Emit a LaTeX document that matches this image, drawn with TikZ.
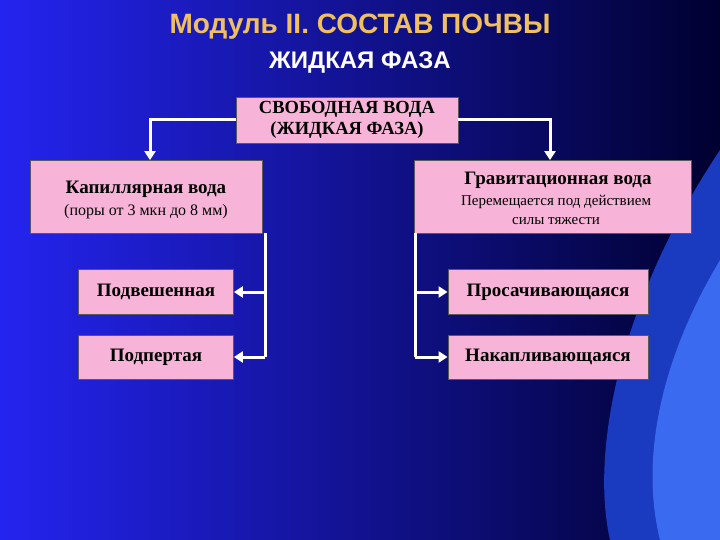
\documentclass[tikz,border=0pt]{standalone}
\usepackage{fontspec}
\setmainfont{Liberation Serif}
\newfontfamily\titlefont{Liberation Sans}
\usetikzlibrary{arrows.meta}
\definecolor{bgA}{HTML}{2424F0}
\definecolor{bgB}{HTML}{000030}
\definecolor{pinkbox}{HTML}{F8B4D8}
\definecolor{ttl}{HTML}{F0C060}
\definecolor{wave}{HTML}{3A6AF0}
\definecolor{wave2}{HTML}{1A3AC0}
\tikzset{box/.style={draw=gray!70!black,fill=pinkbox,line width=0.8pt,font=\bfseries\fontsize{19}{21}\selectfont,align=center,inner sep=0pt},
 conn/.style={white,line width=3pt,-{Triangle[length=9pt,width=11pt]}},
 connp/.style={white,line width=3pt}}
\begin{document}
\begin{tikzpicture}[x=1pt,y=-1pt]
\useasboundingbox (0,0) rectangle (720,540);
\shade[left color=bgA,right color=bgB] (0,0) rectangle (720,540);
\fill[wave2] (720,150) .. controls (620,300) and (590,450) .. (610,540) -- (720,540) -- cycle;
\fill[wave] (720,260) .. controls (660,360) and (640,460) .. (660,540) -- (720,540) -- cycle;
\node[ttl,font=\titlefont\bfseries\fontsize{28}{32}\selectfont] (t1) at (360,27) {Модуль II. СОСТАВ ПОЧВЫ};
\node[white,font=\titlefont\bfseries\fontsize{24}{28}\selectfont] (t2) at (360,63) {ЖИДКАЯ ФАЗА};
\node[box,font=\bfseries\fontsize{18.5}{21}\selectfont,minimum width=222pt,minimum height=46pt] (top) at (347,120) {СВОБОДНАЯ ВОДА\\(ЖИДКАЯ ФАЗА)};
\node[box,minimum width=232pt,minimum height=73pt] (cap) at (146,197) {};
\node[font=\bfseries\fontsize{19}{21}\selectfont] (capt) at (146,189) {Капиллярная вода};
\node[font=\fontsize{16}{18}\selectfont] (caps) at (146,212) {(поры от 3 мкн до 8 мм)};
\node[box,minimum width=277pt,minimum height=73pt] (grav) at (553,197) {};
\node[font=\bfseries\fontsize{19}{21}\selectfont] (gravt) at (558,180) {Гравитационная вода};
\node[font=\fontsize{15}{19}\selectfont,align=center] (gravs) at (556,210) {Перемещается под действием\\силы тяжести};
\node[box,minimum width=155pt,minimum height=45pt] (s1) at (156,292) {Подвешенная};
\node[box,minimum width=155pt,minimum height=44pt] (s2) at (156,357) {Подпертая};
\node[box,minimum width=200pt,minimum height=45pt] (r1) at (548,292) {Просачивающаяся};
\node[box,minimum width=200pt,minimum height=44pt] (r2) at (548,357) {Накапливающаяся};
\coordinate (lc) at (150,120);
\coordinate (rc) at (550,120);
\coordinate (lv) at (265,233);
\coordinate (rv) at (415,233);
\draw[conn] (top.west) -| (cap.north -| lc);
\draw[conn] (top.east) -| (grav.north -| rc);
\draw[connp] (lv) -- (lv |- s2.east);
\draw[conn] (lv |- s1.east) -- (s1.east);
\draw[conn] (lv |- s2.east) -- (s2.east);
\draw[connp] (rv) -- (rv |- r2.west);
\draw[conn] (rv |- r1.west) -- (r1.west);
\draw[conn] (rv |- r2.west) -- (r2.west);
\end{tikzpicture}
\end{document}
